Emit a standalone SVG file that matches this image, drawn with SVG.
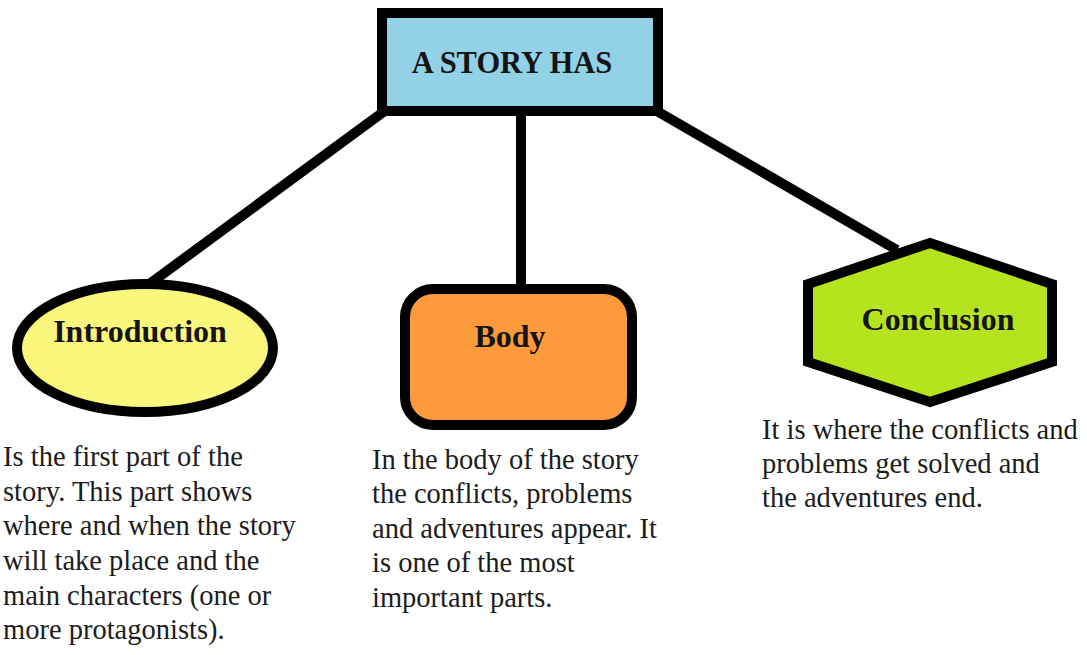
<svg xmlns="http://www.w3.org/2000/svg" width="1087" height="655" viewBox="0 0 1087 655">
<style>
.title{font-family:"Liberation Serif","Times New Roman",serif;font-weight:bold;fill:#151515;text-anchor:middle}
.desc{font-family:"Liberation Serif","Times New Roman",serif;font-size:28.5px;fill:#1c1c1c}
.conn{stroke:#000;stroke-width:10;fill:none}
.shape{stroke:#000;stroke-width:10}
</style>
<rect width="1087" height="655" fill="#fff"/>
<g id="connectors">
<line class="conn" x1="386" y1="110" x2="148" y2="285"/>
<line class="conn" x1="521" y1="112" x2="521" y2="292"/>
<line class="conn" x1="655" y1="110" x2="897" y2="250"/>
</g>
<g id="root">
<rect class="shape" x="382" y="13" width="276" height="98" fill="#93D2E6"/>
<text class="title" x="512" y="73" font-size="30.5">A STORY HAS</text>
</g>
<g id="introduction">
<ellipse class="shape" cx="145" cy="348" rx="128" ry="64" fill="#FBF77C" stroke-width="9"/>
<text class="title" x="140" y="342" font-size="32">Introduction</text>
</g>
<g id="body">
<rect class="shape" x="405" y="289" width="227" height="136" rx="28" fill="#FD9A3B"/>
<text class="title" x="510" y="347" font-size="32">Body</text>
</g>
<g id="conclusion">
<polygon class="shape" points="930,243 1052,284 1052,362 930,402 808,362 808,284" fill="#B5E41E"/>
<text class="title" x="938" y="330" font-size="32">Conclusion</text>
</g>
<g id="intro-text">
<text class="desc" x="3" y="466">Is the first part of the</text>
<text class="desc" x="3" y="501">story. This part shows</text>
<text class="desc" x="3" y="535">where and when the story</text>
<text class="desc" x="3" y="570">will take place and the</text>
<text class="desc" x="3" y="605">main characters (one or</text>
<text class="desc" x="3" y="639">more protagonists).</text>
</g>
<g id="body-text">
<text class="desc" x="372" y="469">In the body of the story</text>
<text class="desc" x="372" y="503">the conflicts, problems</text>
<text class="desc" x="372" y="538">and adventures appear. It</text>
<text class="desc" x="372" y="572">is one of the most</text>
<text class="desc" x="372" y="607">important parts.</text>
</g>
<g id="conclusion-text">
<text class="desc" x="762" y="439">It is where the conflicts and</text>
<text class="desc" x="762" y="473">problems get solved and</text>
<text class="desc" x="762" y="507">the adventures end.</text>
</g>
</svg>
